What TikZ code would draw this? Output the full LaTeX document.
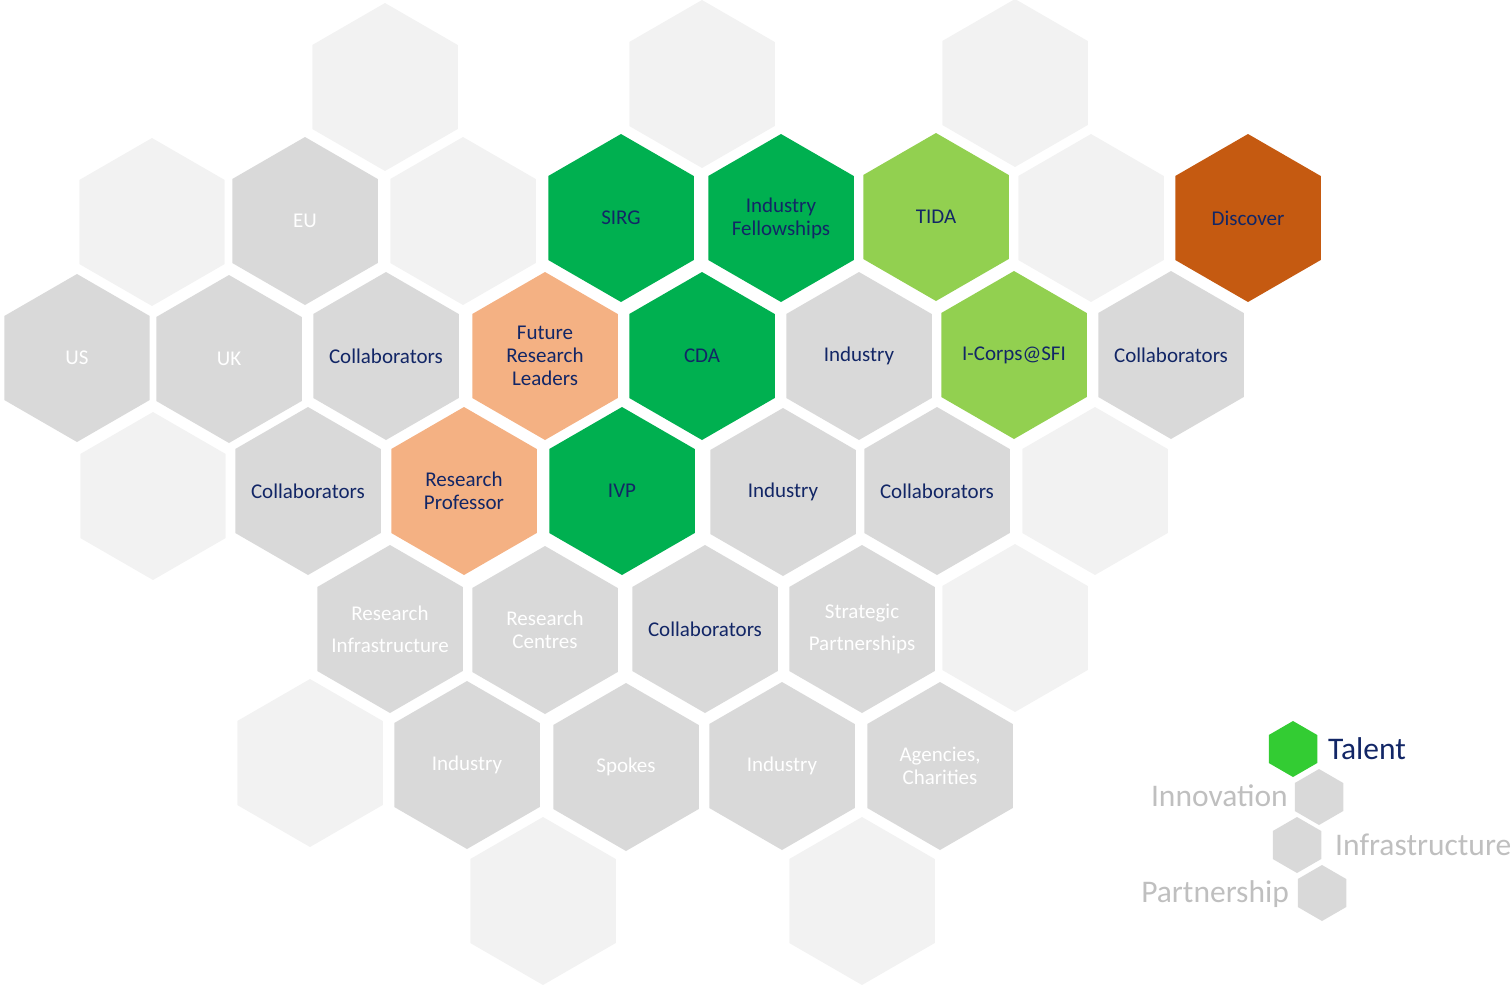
\documentclass[tikz,border=0pt]{standalone}
\usepackage{fontspec}
\setmainfont{Carlito}
\usetikzlibrary{shapes.geometric}

\definecolor{sfigreen}{RGB}{0,176,80}
\definecolor{limegreen}{RGB}{146,208,80}
\definecolor{rust}{RGB}{197,90,17}
\definecolor{peach}{RGB}{244,177,131}
\definecolor{midgrey}{RGB}{217,217,217}
\definecolor{palegrey}{RGB}{242,242,242}
\definecolor{navytext}{RGB}{18,38,102}
\definecolor{keygreen}{RGB}{51,204,51}
\definecolor{keygrey}{RGB}{191,191,191}

\begin{document}
\begin{tikzpicture}[x=1pt,y=-1pt,
  hexcell/.style={regular polygon,regular polygon sides=6,shape border rotate=30,minimum size=168pt,inner sep=0pt,outer sep=0pt},
  talent/.style={hexcell,fill=sfigreen},
  innov/.style={hexcell,fill=limegreen},
  disc/.style={hexcell,fill=rust},
  leader/.style={hexcell,fill=peach},
  partner/.style={hexcell,fill=midgrey},
  blank/.style={hexcell,fill=palegrey},
  dark/.style={inner sep=0pt,align=center,text=navytext,font=\fontsize{21}{23}\selectfont},
  light/.style={dark,text=white},
  keyhex/.style={regular polygon,regular polygon sides=6,shape border rotate=30,minimum size=56pt,inner sep=0pt,outer sep=0pt},
  keylabel/.style={inner sep=0pt,text=keygrey,font=\fontsize{31.5}{32}\selectfont}]

\useasboundingbox (0,0) rectangle (1512,986);

\node[blank] (top1) at (385,87) {};
\node[blank] (top2) at (702,84) {};
\node[blank] (top3) at (1015,83) {};

\node[blank] (row1a) at (152,222) {};
\node[partner,label={[light]center:EU}] (eu) at (305,221) {};
\node[blank] (row1b) at (463,221) {};
\node[talent,label={[dark]center:SIRG}] (sirg) at (621,218) {};
\node[talent,label={[dark]center:Industry\\Fellowships}] (indfell) at (781,218) {};
\node[innov,label={[dark]center:TIDA}] (tida) at (936,217) {};
\node[blank] (row1c) at (1091,218) {};
\node[disc,label={[dark]center:Discover}] (discover) at (1248,218) {};

\node[partner,label={[light]center:US}] (us) at (77,358) {};
\node[partner,label={[light]center:UK}] (uk) at (229,359) {};
\node[partner,label={[dark]center:Collaborators}] (collab1) at (386,356) {};
\node[leader,label={[dark]center:Future\\Research\\Leaders}] (frl) at (545,356) {};
\node[talent,label={[dark]center:CDA}] (cda) at (702,356) {};
\node[partner,label={[dark]center:Industry}] (industry1) at (859,356) {};
\node[innov,label={[dark]center:I-Corps@SFI}] (icorps) at (1014,355) {};
\node[partner,label={[dark]center:Collaborators}] (collab2) at (1171,355) {};

\node[blank] (row3a) at (153,496) {};
\node[partner,label={[dark]center:Collaborators}] (collab3) at (308,491) {};
\node[leader,label={[dark]center:Research\\Professor}] (resprof) at (464,491) {};
\node[talent,label={[dark]center:IVP}] (ivp) at (622,491) {};
\node[partner,label={[dark]center:Industry}] (industry2) at (783,492) {};
\node[partner,label={[dark]center:Collaborators}] (collab4) at (937,491) {};
\node[blank] (row3b) at (1095,491) {};

\node[partner,label={[light]center:Research\\[9pt]Infrastructure}] (resinfra) at (390,629) {};
\node[partner,label={[light]center:Research\\Centres}] (rescentres) at (545,630) {};
\node[partner,label={[dark]center:Collaborators}] (collab5) at (705,629) {};
\node[partner,label={[light]center:Strategic\\[9pt]Partnerships}] (strategic) at (862,629) {};
\node[blank] (row4a) at (1015,628) {};

\node[blank] (row5a) at (310,763) {};
\node[partner,label={[light]center:Industry}] (industry3) at (467,765) {};
\node[partner,label={[light]center:Spokes}] (spokes) at (626,767) {};
\node[partner,label={[light]center:Industry}] (industry4) at (782,766) {};
\node[partner,label={[light]center:Agencies,\\Charities}] (agencies) at (940,766) {};

\node[blank] (bot1) at (543,901) {};
\node[blank] (bot2) at (862,901) {};

\node[keyhex,fill=keygreen] (keytalent) at (1293,749) {};
\node[keyhex,fill=midgrey] (keyinnov) at (1319,797) {};
\node[keyhex,fill=midgrey] (keyinfra) at (1297,845) {};
\node[keyhex,fill=midgrey] (keypartner) at (1322,893) {};

\node[keylabel,text=navytext,anchor=base west] (talentlabel) at (1328,759) {Talent};
\node[keylabel,anchor=base east] (innovlabel) at (1288,806) {Innovation};
\node[keylabel,anchor=base west] (infralabel) at (1335,855) {Infrastructure};
\node[keylabel,anchor=base east] (partnerlabel) at (1289,902) {Partnership};

\end{tikzpicture}
\end{document}
